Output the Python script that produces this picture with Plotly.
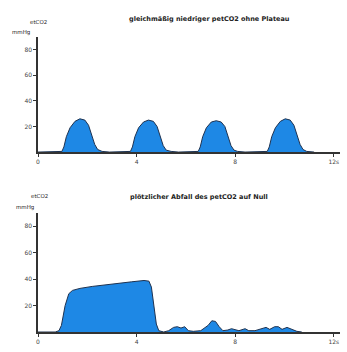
import plotly.graph_objects as go

# --- data ---
top_t = [0, 0.9, 0.97, 1.05, 1.15, 1.3, 1.5, 1.7, 1.9, 2.05, 2.2, 2.3, 2.42, 2.6, 2.9,
         3.6, 3.75, 3.83, 3.93, 4.08, 4.28, 4.48, 4.68, 4.83, 4.98, 5.08, 5.2, 5.4, 5.7,
         6.4, 6.5, 6.58, 6.68, 6.83, 7.03, 7.23, 7.43, 7.58, 7.73, 7.83, 7.95, 8.1, 8.4,
         9.2, 9.3, 9.38, 9.48, 9.63, 9.83, 10.03, 10.23, 10.38, 10.53, 10.63, 10.75, 10.9, 11.2]
top_v = [0, 0, 0.5, 4, 12, 19, 24, 26, 25, 21, 13, 6, 2, 0.5, 0,
         0, 0.5, 4, 12, 19, 23.5, 25, 24, 20, 12, 5, 1.5, 0.5, 0,
         0, 0.5, 4, 12, 19, 23.5, 24.5, 23.5, 20, 12, 5, 1.5, 0.5, 0,
         0, 0.5, 4, 12, 19, 24, 26, 25, 21, 13, 6, 2, 0.5, 0]

bot_t = [0, 0.7, 0.85, 0.95, 1.1, 1.25, 1.4, 1.7, 2.2, 3.0, 3.8, 4.3, 4.5, 4.6, 4.7, 4.8,
         4.9, 5.1, 5.3, 5.5, 5.65, 5.8, 5.95, 6.1, 6.3, 6.6, 6.9, 7.05, 7.2, 7.35, 7.5,
         7.7, 7.85, 8.0, 8.15, 8.4, 8.55, 8.8, 9.1, 9.25, 9.4, 9.6, 9.75, 9.9, 10.1,
         10.25, 10.5, 10.7]
bot_v = [0, 0, 1, 5, 20, 29, 31.5, 33, 34.5, 36.5, 38, 39, 38.5, 34, 20, 6,
         1, 0, 1, 3.5, 4, 3, 4, 1, 0.5, 1, 5, 8.5, 8, 4, 1,
         1.5, 2.5, 1.5, 1, 2.5, 1, 1, 3, 3.5, 2, 4, 4, 2, 3.5,
         2.5, 0.5, 0]

x_ticks = [0, 4, 8, 12]
x_labels = ["0", "4", "8", "12s"]
y_ticks = [20, 40, 60, 80]
y_labels = ["20", "40", "60", "80"]

title_top = "gleichmäßig niedriger petCO2 ohne Plateau"
title_bot = "plötzlicher Abfall des petCO2 auf Null"

# --- figure ---
fill = "rgb(30,136,229)"
edge = "rgb(30,50,80)"

fig = go.Figure()
fig.add_trace(go.Scatter(x=top_t, y=top_v, mode="lines", fill="tozeroy",
                         fillcolor=fill, line=dict(color=edge, width=1),
                         xaxis="x", yaxis="y", showlegend=False))
fig.add_trace(go.Scatter(x=bot_t, y=bot_v, mode="lines", fill="tozeroy",
                         fillcolor=fill, line=dict(color=edge, width=1),
                         xaxis="x2", yaxis="y2", showlegend=False))

axis_common = dict(showgrid=False, zeroline=False, showline=True, linecolor="#333",
                   linewidth=1.5, ticks="outside", ticklen=3, tickcolor="#333",
                   tickfont=dict(size=6, color="#444", family="DejaVu Sans"))

fig.update_layout(
    width=347, height=352,
    margin=dict(l=38, r=7, t=37, b=17),
    paper_bgcolor="white", plot_bgcolor="white",
    xaxis=dict(domain=[0, 1], range=[0, 12.25], tickvals=x_ticks, ticktext=x_labels,
               anchor="y", **axis_common),
    yaxis=dict(domain=[0.61, 1.0], range=[0, 90], tickvals=y_ticks, ticktext=y_labels,
               anchor="x", **axis_common),
    xaxis2=dict(domain=[0, 1], range=[0, 12.25], tickvals=x_ticks, ticktext=x_labels,
                anchor="y2", **axis_common),
    yaxis2=dict(domain=[0, 0.403], range=[0, 90], tickvals=y_ticks, ticktext=y_labels,
                anchor="x2", **axis_common),
)

ann_font = dict(size=6, color="#222", family="DejaVu Sans")
fig.add_annotation(x=209, y=352 - 19, xref="paper", yref="paper", text="<b>%s</b>" % title_top,
                   showarrow=False, font=dict(size=6.5, color="#222", family="DejaVu Sans"))
annots = [
    (209, 19, "<b>%s</b>" % title_top),
    (199, 199, "<b>%s</b>" % title_bot),
    (38, 22, "etCO2"),
    (21, 32, "mmHg"),
    (39, 198, "etCO2"),
    (25, 209, "mmHg"),
]
fig.layout.annotations = []
for px, py, txt in annots:
    fig.add_annotation(x=(px - 38) / 302, y=(335 - py) / 298, xref="paper", yref="paper",
                       text=txt, showarrow=False, xanchor="center", yanchor="middle",
                       font=dict(size=6.5 if txt.startswith("<b>") else 5.5,
                                 color="#222", family="DejaVu Sans"))

fig.write_html("out.html")
